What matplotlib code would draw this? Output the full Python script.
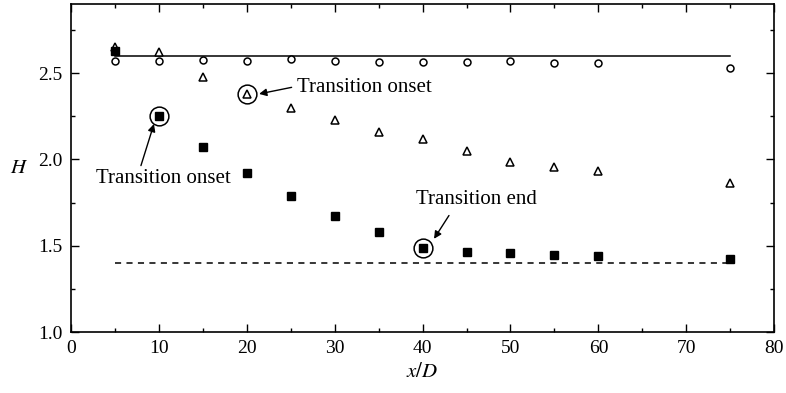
import numpy as np
import matplotlib.pyplot as plt
from matplotlib.ticker import MultipleLocator

# data
x_D = [5, 10, 15, 20, 25, 30, 35, 40, 45, 50, 55, 60, 75]
H_circle = [2.57, 2.57, 2.575, 2.57, 2.58, 2.57, 2.566, 2.566, 2.566, 2.57, 2.556, 2.56, 2.53]
H_triangle = [2.653, 2.624, 2.477, 2.376, 2.298, 2.23, 2.157, 2.118, 2.05, 1.987, 1.955, 1.934, 1.865]
H_square = [2.628, 2.25, 2.074, 1.923, 1.79, 1.673, 1.577, 1.487, 1.463, 1.457, 1.446, 1.44, 1.423]

# reference levels
x_ref = [5, 75]
H_laminar = 2.6
H_turbulent = 1.4

plt.rcParams['font.family'] = ['Liberation Serif', 'DejaVu Serif']
plt.rcParams['mathtext.fontset'] = 'stix'

fig = plt.figure(figsize=(7.86, 3.93), dpi=100)
ax = fig.add_axes([0.0903, 0.155, 0.985 - 0.0903, 0.99 - 0.155])

ax.plot(x_ref, [H_laminar, H_laminar], color='black', lw=1.1)
ax.plot(x_ref, [H_turbulent, H_turbulent], color='black', lw=1.1, ls=(0, (4, 3.5)))

ax.plot(x_D, H_circle, ls='none', marker='o', ms=5, mfc='white', mec='black', mew=1.1)
ax.plot(x_D, H_triangle, ls='none', marker='^', ms=5.5, mfc='white', mec='black', mew=1.1)
ax.plot(x_D, H_square, ls='none', marker='s', ms=5.5, mfc='black', mec='black')

# circled points
i_onset_tri = x_D.index(20)
i_onset_sq = x_D.index(10)
i_end_sq = x_D.index(40)
ax.plot([x_D[i_onset_tri]], [H_triangle[i_onset_tri]], ls='none', marker='o', ms=13.5,
        mfc='none', mec='black', mew=1.1)
ax.plot([x_D[i_onset_sq], x_D[i_end_sq]], [H_square[i_onset_sq], H_square[i_end_sq]], ls='none',
        marker='o', ms=13.5, mfc='none', mec='black', mew=1.1)

arrow = dict(arrowstyle='-|>', color='black', lw=1.0, mutation_scale=11, shrinkA=0, shrinkB=0)
fs = 15

ax.text(25.7, 2.417, 'Transition onset', fontsize=fs, ha='left', va='center')
ax.annotate('', xy=(21.4, 2.379), xytext=(25.1, 2.417), arrowprops=arrow)

ax.text(10.5, 1.887, 'Transition onset', fontsize=fs, ha='center', va='center')
ax.annotate('', xy=(9.44, 2.205), xytext=(7.96, 1.964), arrowprops=arrow)

ax.text(46.1, 1.765, 'Transition end', fontsize=fs, ha='center', va='center')
ax.annotate('', xy=(41.3, 1.54), xytext=(43.0, 1.675), arrowprops=arrow)

ax.set_xlim(0, 80)
ax.set_ylim(1.0, 2.9)
ax.xaxis.set_major_locator(MultipleLocator(10))
ax.xaxis.set_minor_locator(MultipleLocator(5))
ax.yaxis.set_major_locator(MultipleLocator(0.5))
ax.yaxis.set_minor_locator(MultipleLocator(0.25))
ax.set_yticks([1.0, 1.5, 2.0, 2.5])
ax.set_yticklabels(['1.0', '1.5', '2.0', '2.5'])

ax.tick_params(which='both', direction='in', top=True, right=True, labelsize=14, width=1.0)
ax.tick_params(which='major', length=5.5, pad=6)
ax.tick_params(which='minor', length=3)
for s in ax.spines.values():
    s.set_linewidth(1.2)

ax.set_xlabel('$x/D$', fontsize=15, labelpad=4)
ax.set_ylabel('$H$', fontsize=15, rotation=0, labelpad=14, va='center')

fig.savefig('out.png', dpi=100)
